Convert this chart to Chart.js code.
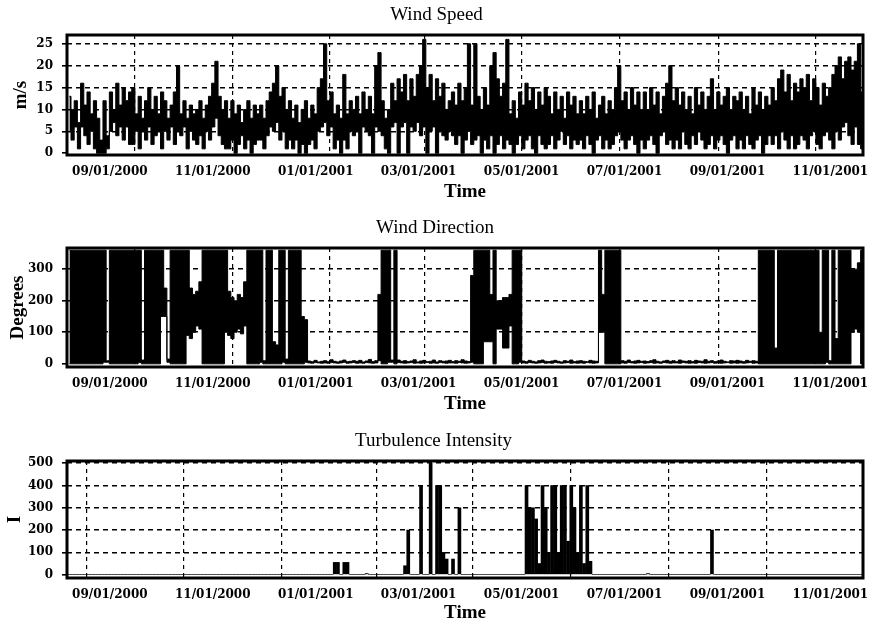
<!DOCTYPE html>
<html><head><meta charset="utf-8">
<script src="https://cdn.jsdelivr.net/npm/chart.js@4.4.1/dist/chart.umd.min.js"></script>
<style>
html,body{margin:0;padding:0;background:#fff;overflow:hidden;width:874px;height:626px;}
canvas{position:absolute;left:0;}
</style></head><body>
<canvas id="c1" width="874" height="213" style="top:0px"></canvas>
<canvas id="c2" width="874" height="214" style="top:213px"></canvas>
<canvas id="c3" width="874" height="200" style="top:426px"></canvas>
<script>
// ---- time grid (one sample every 2 days from the first date) ----
const startDate = '2000-07-22';
const stepDays = 2;
const tickLabels = ['09/01/2000','11/01/2000','01/01/2001','03/01/2001','05/01/2001','07/01/2001','09/01/2001','11/01/2001'];

// ---- Wind Speed (m/s): upper and lower envelope per 2-day step ----
const speedHigh = [
13,10,12,7,16,11,14,9,12,8,
3,12,4,14,10,16,11,15,12,14,
15,9,13,8,12,15,10,13,9,14,
12,8,11,14,20,9,12,8,11,9,
10,12,8,11,13,16,21,13,10,12,
8,12,9,11,7,10,12,8,11,9,
11,8,12,14,16,20,13,15,10,12,
8,11,7,10,12,8,11,9,15,17,
25,12,14,9,11,8,18,9,12,10,
13,9,14,10,13,9,20,23,12,8,
10,16,12,17,14,18,12,17,13,18,
20,26,15,18,12,17,13,16,10,12,
14,11,16,12,15,25,11,25,13,10,
15,11,20,23,17,13,16,26,9,12,
8,14,11,16,12,15,10,14,11,15,
13,9,14,10,13,8,14,11,13,9,
12,9,13,10,14,8,11,13,9,12,
10,15,20,12,14,10,15,11,14,10,
14,10,15,11,14,9,13,16,20,12,
15,11,14,10,13,9,15,11,14,10,
13,17,10,14,11,13,15,10,13,12,
14,10,13,9,15,11,14,10,13,11,
15,12,17,19,14,18,12,16,14,17,
15,18,12,17,15,11,16,13,15,18,
20,22,17,21,22,19,21,25,14];
const speedLow = [
5,3,6,1,6,4,2,5,1,0,
0,0,1,5,7,4,6,3,6,2,
2,5,1,5,3,6,2,4,5,1,
5,3,6,2,5,4,6,1,5,3,
2,4,1,5,3,6,8,4,2,1,
1,3,0,2,4,1,3,0,2,3,
3,1,4,6,5,7,3,5,1,3,
1,3,0,2,0,2,3,1,5,6,
7,4,6,1,3,0,3,1,5,4,
5,0,6,5,4,0,6,5,4,1,
0,6,7,0,6,7,0,6,5,7,
4,6,0,5,6,0,5,4,3,5,
4,2,4,0,3,5,2,3,4,0,
3,1,4,0,2,4,1,3,2,0,
2,4,1,3,4,1,0,4,2,1,
2,4,1,3,5,2,4,1,3,2,
3,1,4,2,0,3,4,1,3,1,
2,4,5,3,1,3,4,2,0,3,
1,3,4,2,0,4,5,2,3,1,
3,1,5,2,1,4,2,5,3,1,
2,4,1,3,4,2,0,3,4,1,
3,1,4,2,1,3,4,0,2,4,
2,4,1,5,3,1,4,1,2,4,
3,1,4,5,2,1,4,5,3,1,
5,3,6,7,4,2,6,2,1];

// ---- Wind Direction (degrees): upper and lower envelope per 2-day step ----
const dirHigh = [
360,360,360,360,360,360,360,360,360,360,
360,360,10,360,360,360,360,360,360,360,
360,360,360,12,360,360,360,360,360,360,
240,15,360,360,360,360,360,360,240,220,
230,260,360,360,360,360,360,360,360,360,
230,210,200,220,210,260,360,360,360,360,
360,10,360,360,70,60,360,360,15,360,
360,360,360,150,140,9,7,11,6,8,
10,7,13,8,6,9,12,7,8,10,
8,11,6,9,14,7,10,220,360,360,
360,12,360,12,8,10,7,9,13,6,
9,11,7,8,12,6,10,8,9,11,
7,10,8,13,9,7,280,360,360,360,
360,360,220,360,200,200,210,210,220,360,
360,360,9,7,11,8,6,10,12,8,
7,9,11,8,6,10,8,12,7,9,
10,8,7,11,9,8,360,220,360,360,
360,360,360,10,8,12,7,9,11,8,
9,7,10,13,8,6,9,11,8,10,
7,12,9,8,10,7,11,9,8,13,
8,10,7,9,12,8,6,10,9,11,
9,7,11,8,10,8,360,360,360,360,
360,50,360,360,360,360,360,360,360,360,
360,360,360,360,360,100,360,360,10,360,
80,360,360,360,360,300,300,320,360];
const dirLow = [
0,0,0,0,0,0,0,0,0,0,
0,5,5,0,0,0,0,0,0,0,
0,0,4,0,0,0,0,0,0,150,
150,5,0,0,0,0,0,90,80,100,
120,110,0,0,0,0,0,0,0,100,
90,80,100,110,95,120,0,0,0,0,
5,0,0,0,0,0,0,5,0,0,
0,0,0,0,5,3,2,4,3,2,
3,2,4,3,2,3,5,2,3,4,
2,3,2,4,3,2,3,10,0,0,
5,5,0,4,3,2,3,4,2,3,
2,3,4,2,3,2,4,3,2,3,
3,2,4,3,2,3,5,0,0,0,
70,70,70,0,110,110,50,50,120,0,
0,5,3,2,4,3,2,3,4,2,
3,2,4,3,2,3,4,2,3,2,
3,2,4,3,2,3,100,100,0,0,
0,0,0,3,2,4,3,2,3,4,
2,3,4,2,3,2,4,3,2,3,
3,2,4,3,2,3,2,4,3,2,
3,4,2,3,2,3,4,2,3,2,
3,2,3,4,2,3,0,0,0,0,
0,0,0,0,0,0,0,0,0,0,
0,0,0,0,0,0,0,5,0,0,
0,0,0,0,0,100,110,100,0];

// ---- Turbulence Intensity (I) per 2-day step ----
const turbulence = [
0,0,0,0,0,0,0,0,0,0,
0,0,0,0,0,0,0,0,0,0,
0,0,0,0,0,0,0,0,0,0,
0,0,0,0,0,0,0,0,0,0,
0,0,0,0,0,0,0,0,0,0,
0,0,0,0,0,0,0,0,0,0,
0,0,0,0,0,0,0,0,0,0,
0,0,0,0,0,0,0,0,0,0,
0,0,0,55,55,0,55,55,0,0,
0,0,0,5,0,0,0,0,0,0,
0,0,0,0,0,40,200,0,0,0,
400,0,0,500,0,400,400,100,70,0,
70,0,300,0,0,0,0,0,0,0,
0,0,0,0,0,0,0,0,0,0,
0,0,0,400,300,300,250,50,400,300,
100,400,400,100,400,400,150,400,300,100,
400,50,400,60,0,0,0,0,0,0,
0,0,0,0,0,0,0,0,0,0,
0,5,0,0,0,0,0,0,0,0,
0,0,0,0,0,0,0,0,0,0,
0,200,0,0,0,0,0,0,0,0,
0,0,0,0,0,0,0,0,0,0,
0,0,0,0,0,0,0,0,0,0,
0,0,0,0,0,0,0,0,0,0,
0,0,0,0,0,0,0,0,0];

const speedTicks = [0,5,10,15,20,25];
const dirTicks = [0,100,200,300];
const turbTicks = [0,100,200,300,400,500];

// ---- layout constants (label row is spread evenly, as in the original figure) ----
const X_MIN = -1.5, X_MAX = 496.5;
const LABEL_FIRST = 25.3, LABEL_STEP = 64.4;

// ---- helpers ----
const t0 = Date.parse(startDate + 'T00:00:00Z');
function dayOf(label){ const p = label.split('/').map(Number); return (Date.UTC(p[2], p[0]-1, p[1]) - t0) / 86400000; }
const tickDays = tickLabels.map(dayOf);
const labelDays = tickLabels.map((_, i) => LABEL_FIRST + LABEL_STEP * i);
function series(v){ return v.map((y, i) => ({x: i * stepDays, y})); }

const serif = "'Liberation Serif','Times New Roman',serif";
const tickFont = {family: "'DejaVu Serif',serif", size: 12, weight: 'bold'};

const framePlugin = {
  id: 'frame',
  afterDatasetsDraw(chart){
    const a = chart.chartArea, ctx = chart.ctx;
    ctx.save();
    ctx.strokeStyle = '#000';
    ctx.lineWidth = 3;
    ctx.strokeRect(a.left, a.top, a.right - a.left, a.bottom - a.top);
    ctx.restore();
  }
};

function makeOptions(o){
  return {
    responsive: false, animation: false, devicePixelRatio: 1,
    layout: {padding: {left: o.padLeft, right: 11, top: 0, bottom: o.padBottom}},
    plugins: {
      legend: {display: false}, tooltip: {enabled: false},
      title: {display: true, text: o.title, color: '#000', font: {family: serif, size: 19, weight: 'normal'}, padding: {top: 4, bottom: 8.2}}
    },
    scales: {
      x: {
        type: 'linear', position: 'bottom', weight: 0, min: X_MIN, max: X_MAX, offset: false,
        afterBuildTicks: s => { s.ticks = tickDays.map(v => ({value: v})); },
        afterFit: s => { s.height = 0; s.paddingLeft = 0; s.paddingRight = 0; },
        ticks: {display: false},
        grid: {color: '#000', lineWidth: 1.2, drawTicks: false},
        border: {display: false, dash: [4, 4]}
      },
      xl: {
        type: 'linear', axis: 'x', position: 'bottom', weight: 1, min: X_MIN, max: X_MAX, offset: false,
        afterBuildTicks: s => { s.ticks = labelDays.map(v => ({value: v})); },
        afterFit: s => { s.height = o.xAxisH; s.paddingLeft = 0; s.paddingRight = 0; },
        ticks: {autoSkip: false, maxRotation: 0, color: '#000', font: tickFont, padding: 10,
          callback: (v, i) => tickLabels[i]},
        grid: {display: false, drawTicks: false},
        border: {display: false},
        title: {display: true, text: 'Time', color: '#000', font: {family: serif, size: 19, weight: 'bold'}, padding: {top: 0, bottom: 2}}
      },
      y: {
        type: 'linear', min: o.yMin, max: o.yMax,
        afterBuildTicks: s => { s.ticks = o.yTicks.map(v => ({value: v})); },
        afterFit: s => { s.width = 67 - o.padLeft; },
        ticks: {color: '#000', font: tickFont, padding: 9},
        grid: {color: c => (c.tick && c.tick.value === 0) ? 'rgba(0,0,0,0)' : '#000', lineWidth: 1.6, drawTicks: true, tickLength: 5, tickColor: '#000'},
        border: {display: false, dash: [5, 4]},
        title: {display: true, text: o.yTitle, color: '#000', font: {family: serif, size: 19, weight: 'bold'}, padding: {top: 0, bottom: 0}}
      }
    }
  };
}

function bandDatasets(hi, lo, stepped){
  return [
    {data: series(hi), borderColor: '#000', backgroundColor: '#000', borderWidth: 1, pointRadius: 0, tension: 0, stepped: stepped, fill: '+1'},
    {data: series(lo), borderColor: '#000', backgroundColor: '#000', borderWidth: 1, pointRadius: 0, tension: 0, stepped: stepped, fill: false}
  ];
}

new Chart(document.getElementById('c1'), {
  type: 'line',
  data: {datasets: bandDatasets(speedHigh, speedLow, 'middle')},
  options: makeOptions({title: 'Wind Speed', yTitle: 'm/s', yMin: -0.4, yMax: 27, yTicks: speedTicks, padLeft: 10, padBottom: 8, xAxisH: 50}),
  plugins: [framePlugin]
});

new Chart(document.getElementById('c2'), {
  type: 'line',
  data: {datasets: bandDatasets(dirHigh, dirLow, 'middle')},
  options: makeOptions({title: 'Wind Direction', yTitle: 'Degrees', yMin: -10, yMax: 367, yTicks: dirTicks, padLeft: 7, padBottom: 10, xAxisH: 50}),
  plugins: [framePlugin]
});

new Chart(document.getElementById('c3'), {
  type: 'bar',
  data: {datasets: [{data: series(turbulence), backgroundColor: '#000', borderWidth: 0, barPercentage: 1, categoryPercentage: 1, maxBarThickness: 3}]},
  options: makeOptions({title: 'Turbulence Intensity', yTitle: 'I', yMin: -15, yMax: 510, yTicks: turbTicks, padLeft: 4, padBottom: 0, xAxisH: 48}),
  plugins: [framePlugin]
});
</script>
</body></html>
